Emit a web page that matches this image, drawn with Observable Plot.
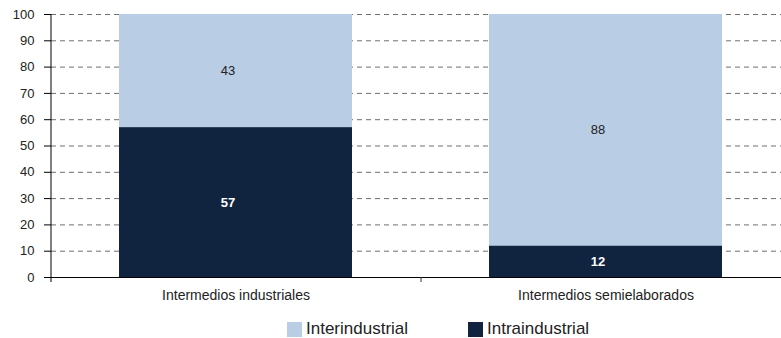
<!DOCTYPE html>
<html><head><meta charset="utf-8">
<script src="https://cdn.jsdelivr.net/npm/d3@7"></script>
<script src="https://cdn.jsdelivr.net/npm/@observablehq/plot@0.6"></script>
<style>
body{margin:0;background:#fff;font-family:"Liberation Sans",Arial,sans-serif;}
#chart svg{display:block;}
#legend{display:flex;align-items:center;padding-left:287px;gap:60px;margin-top:14px;font-size:17px;color:#222;}
#legend .item{display:flex;align-items:center;gap:4px;}
#legend .sw{width:15px;height:15px;display:inline-block;}
</style></head><body><div id="chart"></div><div id="legend"></div>
<script>
const categories = ["Intermedios industriales", "Intermedios semielaborados"];
const seriesNames = ["Interindustrial", "Intraindustrial"];
const interValues = [43, 88];
const intraValues = [57, 12];
const yTicks = [0, 10, 20, 30, 40, 50, 60, 70, 80, 90, 100];
const seriesColors = ["#b9cde5", "#11243f"];

const rows = [];
categories.forEach((c, i) => {
  rows.push({cat: c, series: seriesNames[1], value: intraValues[i]});
  rows.push({cat: c, series: seriesNames[0], value: interValues[i]});
});
const stackOrder = [seriesNames[1], seriesNames[0]];
const xRange = [51, 791];
const step = (xRange[1] - xRange[0]) / categories.length;

const chart = Plot.plot({
  width: 781,
  height: 305,
  marginTop: 14,
  marginBottom: 28,
  marginLeft: 51,
  marginRight: 0,
  style: {fontFamily: "'Liberation Sans', Arial, sans-serif", background: "#fff"},
  x: {domain: categories, range: xRange, paddingInner: 0.37, paddingOuter: 0.185, label: null},
  y: {domain: [0, 100], label: null},
  color: {domain: seriesNames, range: seriesColors},
  marks: [
    Plot.gridY(yTicks, {stroke: "#6e6e6e", strokeOpacity: 1, strokeDasharray: "5,4"}),
    Plot.barY(rows, Plot.stackY({x: "cat", y: "value", z: "series", fill: "series", order: stackOrder})),
    Plot.text(rows, Plot.stackY({x: "cat", y: "value", z: "series", order: stackOrder, text: d => d.series === seriesNames[0] ? d.value : "", fill: "#222", fontSize: 13, dx: -8})),
    Plot.text(rows, Plot.stackY({x: "cat", y: "value", z: "series", order: stackOrder, text: d => d.series === seriesNames[1] ? d.value : "", fill: "#fff", fontSize: 13, fontWeight: "bold", dx: -8})),
    Plot.ruleY([0], {stroke: "#000", strokeWidth: 1.2}),
    Plot.ruleX([categories[0]], {x: d => d, dx: -step / 2, y1: 100, y2: 0, insetBottom: -5, stroke: "#000"}),
    Plot.ruleX([categories[0]], {x: d => d, dx: step / 2, y1: 0, y2: 0, insetBottom: -5, stroke: "#333"}),
    Plot.axisY(yTicks, {tickSize: 7, tickPadding: 10, fontSize: 13, color: "#222", stroke: "#000", label: null}),
    Plot.axisX({tickSize: 0, tickPadding: 13, fontSize: 14, color: "#222", label: null})
  ]
});
document.getElementById("chart").append(chart);

const legend = document.getElementById("legend");
seriesNames.forEach((s, i) => {
  const item = document.createElement("div");
  item.className = "item";
  const sw = document.createElement("span");
  sw.className = "sw";
  sw.style.background = seriesColors[i];
  const t = document.createElement("span");
  t.textContent = s;
  item.append(sw, t);
  legend.append(item);
});
</script>
</body></html>
